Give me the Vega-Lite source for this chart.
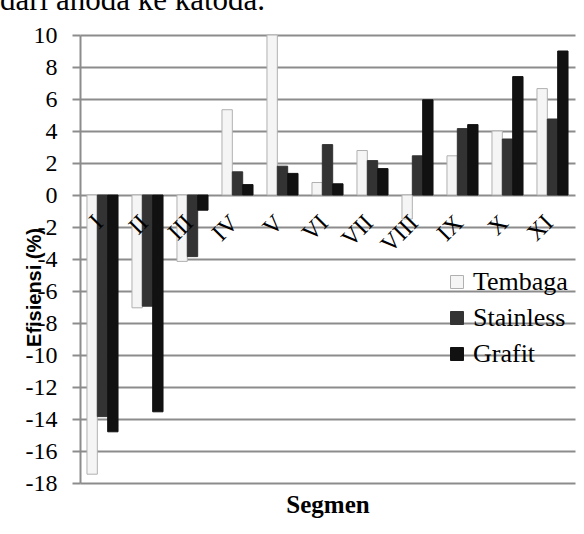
{
  "$schema": "https://vega.github.io/schema/vega-lite/v6.json",
  "width": 495,
  "height": 448,
  "autosize": {"type": "none"},
  "padding": {"left": 80, "top": 35, "right": 9, "bottom": 51},
  "title": {"text": "dari anoda ke katoda.", "anchor": "start", "frame": "group", "dx": -80, "offset": -18, "baseline": "alphabetic", "font": "Liberation Serif, serif", "fontSize": 31, "fontWeight": "normal", "color": "black"},
  "data": {"values": [
    {"segmen": "I", "bahan": "Tembaga", "efisiensi": -17.45},
    {"segmen": "I", "bahan": "Stainless", "efisiensi": -13.85},
    {"segmen": "I", "bahan": "Grafit", "efisiensi": -14.8},
    {"segmen": "II", "bahan": "Tembaga", "efisiensi": -7.05},
    {"segmen": "II", "bahan": "Stainless", "efisiensi": -6.95},
    {"segmen": "II", "bahan": "Grafit", "efisiensi": -13.55},
    {"segmen": "III", "bahan": "Tembaga", "efisiensi": -4.15},
    {"segmen": "III", "bahan": "Stainless", "efisiensi": -3.85},
    {"segmen": "III", "bahan": "Grafit", "efisiensi": -0.95},
    {"segmen": "IV", "bahan": "Tembaga", "efisiensi": 5.33},
    {"segmen": "IV", "bahan": "Stainless", "efisiensi": 1.45},
    {"segmen": "IV", "bahan": "Grafit", "efisiensi": 0.65},
    {"segmen": "V", "bahan": "Tembaga", "efisiensi": 10.0},
    {"segmen": "V", "bahan": "Stainless", "efisiensi": 1.8},
    {"segmen": "V", "bahan": "Grafit", "efisiensi": 1.35},
    {"segmen": "VI", "bahan": "Tembaga", "efisiensi": 0.78},
    {"segmen": "VI", "bahan": "Stainless", "efisiensi": 3.15},
    {"segmen": "VI", "bahan": "Grafit", "efisiensi": 0.7},
    {"segmen": "VII", "bahan": "Tembaga", "efisiensi": 2.78},
    {"segmen": "VII", "bahan": "Stainless", "efisiensi": 2.15},
    {"segmen": "VII", "bahan": "Grafit", "efisiensi": 1.65},
    {"segmen": "VIII", "bahan": "Tembaga", "efisiensi": -1.5},
    {"segmen": "VIII", "bahan": "Stainless", "efisiensi": 2.45},
    {"segmen": "VIII", "bahan": "Grafit", "efisiensi": 5.95},
    {"segmen": "IX", "bahan": "Tembaga", "efisiensi": 2.45},
    {"segmen": "IX", "bahan": "Stainless", "efisiensi": 4.15},
    {"segmen": "IX", "bahan": "Grafit", "efisiensi": 4.4},
    {"segmen": "X", "bahan": "Tembaga", "efisiensi": 4.0},
    {"segmen": "X", "bahan": "Stainless", "efisiensi": 3.5},
    {"segmen": "X", "bahan": "Grafit", "efisiensi": 7.4},
    {"segmen": "XI", "bahan": "Tembaga", "efisiensi": 6.65},
    {"segmen": "XI", "bahan": "Stainless", "efisiensi": 4.75},
    {"segmen": "XI", "bahan": "Grafit", "efisiensi": 9.0}
  ]},
  "mark": {"type": "bar", "strokeWidth": 1},
  "encoding": {
    "x": {
      "field": "segmen", "type": "nominal", "sort": null,
      "scale": {"paddingInner": 0.31, "paddingOuter": 0.155},
      "axis": {
        "orient": "bottom", "offset": -288, "zindex": 1,
        "title": "Segmen", "titleFont": "Liberation Serif, serif", "titleFontSize": 25, "titleFontWeight": "bold", "titleColor": "black",
        "titleY": 317, "titleBaseline": "alphabetic",
        "labelAngle": -45, "labelAlign": "right", "labelBaseline": "middle",
        "labelFont": "Liberation Serif, serif", "labelFontSize": 24, "labelColor": "black",
        "labelPadding": 24, "labelOffset": -3,
        "ticks": false, "tickSize": 0, "domain": false, "grid": false
      }
    },
    "xOffset": {"field": "bahan", "type": "nominal", "sort": ["Tembaga", "Stainless", "Grafit"]},
    "y": {
      "field": "efisiensi", "type": "quantitative",
      "scale": {"domain": [-18, 10], "nice": false},
      "axis": {
        "values": [-18, -16, -14, -12, -10, -8, -6, -4, -2, 0, 2, 4, 6, 8, 10],
        "title": "Efisiensi (%)", "titleFont": "Liberation Sans, sans-serif", "titleFontSize": 20, "titleFontWeight": "bold", "titleColor": "black",
        "titleAngle": 270, "titleX": -40, "titleY": 252, "titleAlign": "center", "titleBaseline": "alphabetic",
        "labelFont": "Liberation Serif, serif", "labelFontSize": 24, "labelColor": "black", "labelPadding": 15,
        "labelExpr": "datum.value + ''",
        "tickSize": 8, "tickColor": "#8c8c8c", "tickWidth": 2,
        "domainColor": "#8c8c8c", "domainWidth": 2,
        "grid": true, "gridColor": "#8c8c8c", "gridWidth": 2
      }
    },
    "fill": {
      "field": "bahan", "type": "nominal",
      "scale": {"domain": ["Tembaga", "Stainless", "Grafit"], "range": ["#f5f5f5", "#333333", "#111111"]},
      "legend": {
        "orient": "none", "legendX": 364, "legendY": 234, "title": null, "padding": 0,
        "symbolType": "square", "symbolSize": 169, "symbolStrokeWidth": 1,
        "labelFont": "Liberation Serif, serif", "labelFontSize": 26, "labelColor": "black",
        "rowPadding": 10, "labelOffset": 3
      }
    },
    "stroke": {
      "field": "bahan", "type": "nominal",
      "scale": {"domain": ["Tembaga", "Stainless", "Grafit"], "range": ["#b0b0b0", "#333333", "#111111"]},
      "legend": {
        "orient": "none", "legendX": 364, "legendY": 234, "title": null, "padding": 0,
        "symbolType": "square", "symbolSize": 169, "symbolStrokeWidth": 1,
        "labelFont": "Liberation Serif, serif", "labelFontSize": 26, "labelColor": "black",
        "rowPadding": 10, "labelOffset": 3
      }
    }
  },
  "config": {"view": {"stroke": null}}
}
